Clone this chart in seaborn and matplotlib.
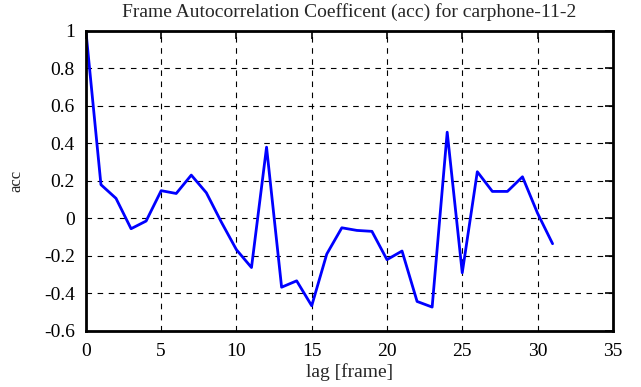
import numpy as np
import pandas as pd
import matplotlib
matplotlib.use("Agg")
import matplotlib.pyplot as plt
import seaborn as sns

lag = list(range(32))
acc = [1.0, 0.18, 0.107, -0.055, -0.014, 0.148, 0.133, 0.231, 0.137, -0.02,
       -0.167, -0.262, 0.38, -0.367, -0.333, -0.466, -0.19, -0.05, -0.064, -0.069,
       -0.22, -0.174, -0.443, -0.473, 0.46, -0.29, 0.249, 0.144, 0.144, 0.222,
       0.028, -0.135]
x_ticks = [0, 5, 10, 15, 20, 25, 30, 35]
y_ticks = [-0.6, -0.4, -0.2, 0, 0.2, 0.4, 0.6, 0.8, 1]
y_labels = ["-0.6", "-0.4", "-0.2", "0", "0.2", "0.4", "0.6", "0.8", "1"]

sns.set_style("white")
plt.rcParams["font.family"] = ["Liberation Serif", "DejaVu Serif"]

df = pd.DataFrame({"lag": lag, "acc": acc})

fig = plt.figure(figsize=(6.41, 3.87), dpi=100)
ax = fig.add_axes([0.134, 0.145, 0.822, 0.775])
sns.lineplot(data=df, x="lag", y="acc", color="#0000ff", linewidth=2, ax=ax)

ax.set_xlim(0, 35)
ax.set_ylim(-0.6, 1)
ax.set_xticks(x_ticks)
ax.set_yticks(y_ticks)
ax.set_yticklabels(y_labels)
ax.grid(True, color="black", linestyle=(0, (5, 5)), linewidth=0.8)
ax.tick_params(direction="in", length=6, width=1.2, labelsize=14, colors="black",
               top=True, right=True)
ax.tick_params(axis="x", pad=9)
ax.tick_params(axis="y", pad=8)
for sp in ax.spines.values():
    sp.set_color("black")
    sp.set_linewidth(2)
ax.set_xlabel("lag [frame]", fontsize=14, labelpad=2)
ax.set_ylabel("acc", fontsize=12, labelpad=14)
ax.set_title("Frame Autocorrelation Coefficent (acc) for carphone-11-2", fontsize=14, pad=10)

fig.savefig("out.png", dpi=100)
